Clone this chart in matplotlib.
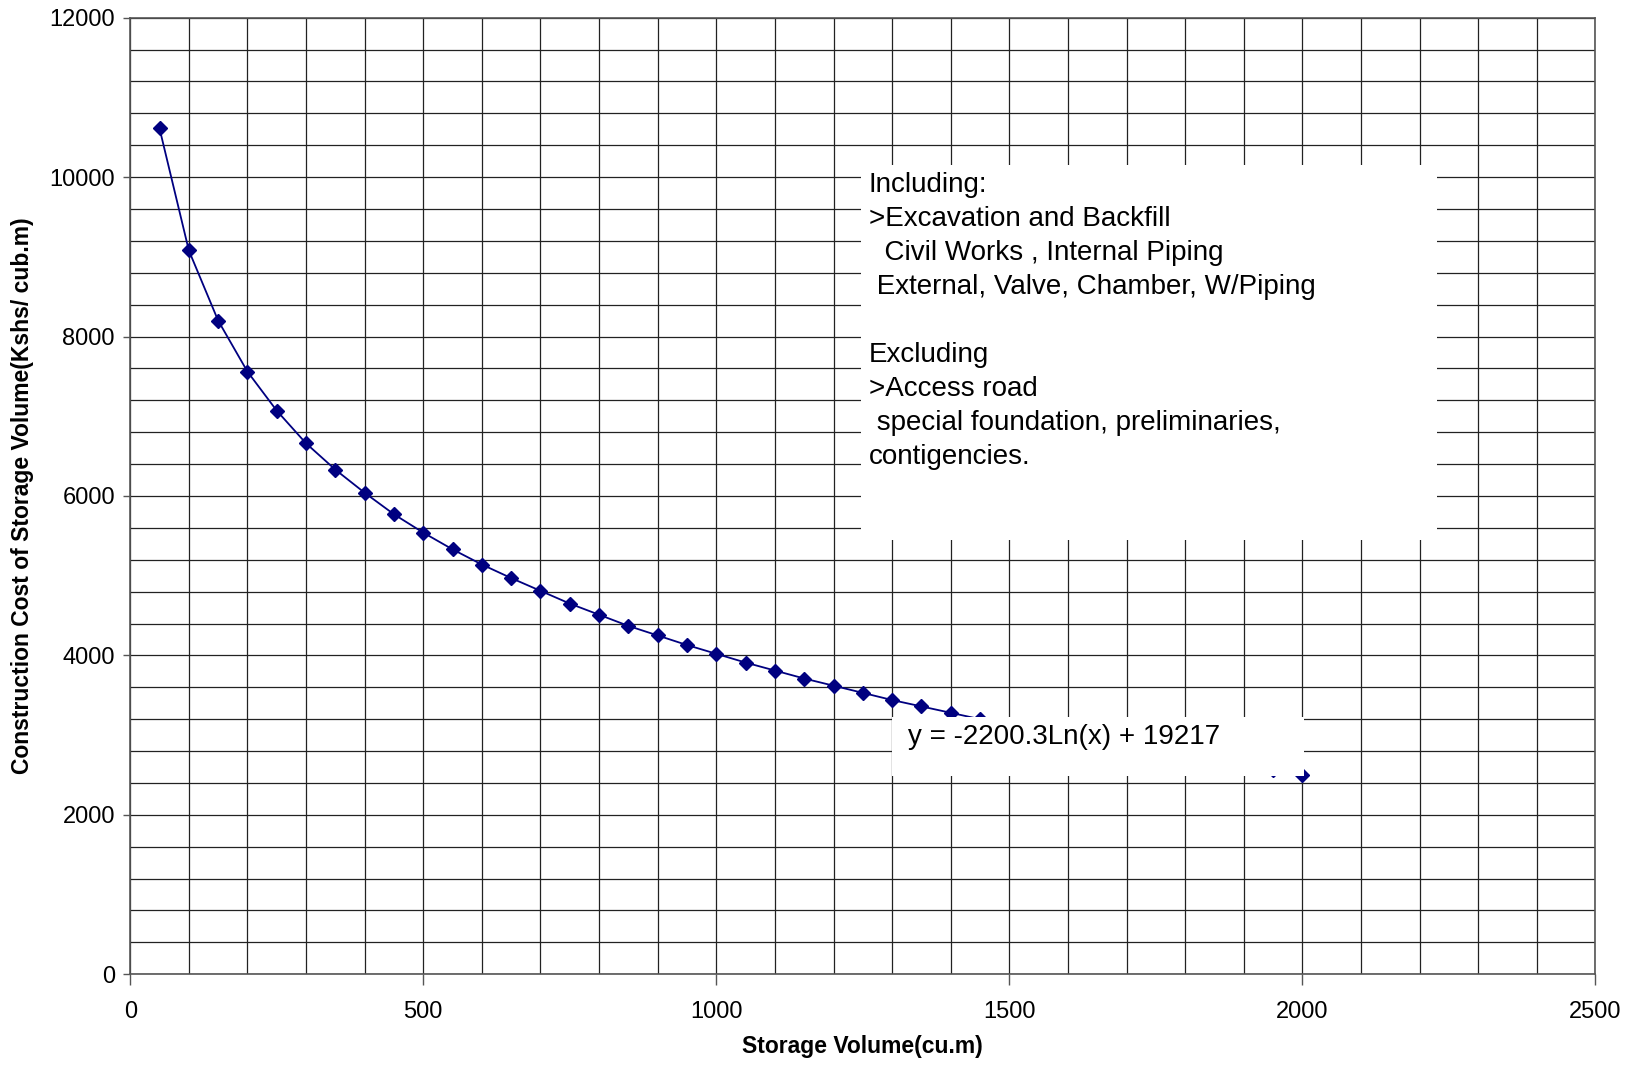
import matplotlib
matplotlib.use("Agg")
import matplotlib.pyplot as plt
from matplotlib.patches import Rectangle
import numpy as np

plt.rcParams['font.family'] = ['Liberation Sans', 'DejaVu Sans']

# Data
volume = [50, 100, 150, 200, 250, 300, 350, 400, 450, 500,
          550, 600, 650, 700, 750, 800, 850, 900, 950, 1000,
          1050, 1100, 1150, 1200, 1250, 1300, 1350, 1400, 1450, 1500,
          1550, 1600, 1650, 1700, 1750, 1800, 1850, 1900, 1950, 2000]
cost = [10610, 9080, 8200, 7560, 7070, 6660, 6330, 6040, 5770, 5540,
        5330, 5140, 4970, 4810, 4650, 4510, 4370, 4250, 4130, 4020,
        3910, 3810, 3710, 3620, 3530, 3440, 3360, 3280, 3200, 3130,
        3060, 2990, 2920, 2860, 2790, 2730, 2670, 2620, 2560, 2500]

x_ticks = [0, 500, 1000, 1500, 2000, 2500]
y_ticks = [0, 2000, 4000, 6000, 8000, 10000, 12000]

note_text = ("Including:\n"
             ">Excavation and Backfill\n"
             "  Civil Works , Internal Piping\n"
             " External, Valve, Chamber, W/Piping\n"
             "\n"
             "Excluding\n"
             ">Access road\n"
             " special foundation, preliminaries,\n"
             "contigencies.")
equation_text = "y = -2200.3Ln(x) + 19217"

fig = plt.figure(figsize=(16.34, 10.65), dpi=100)
ax = fig.add_axes([0.0797, 0.0852, 0.9764 - 0.0797, 0.9834 - 0.0852])

ax.set_xlim(0, 2500)
ax.set_ylim(0, 12000)

# grid
for gx in np.arange(0, 2501, 100):
    ax.axvline(gx, color='#222222', lw=0.9, zorder=1)
for gy in np.arange(0, 12001, 400):
    ax.axhline(gy, color='#222222', lw=0.9, zorder=1)

ax.plot(volume, cost, color='#000080', lw=1.3, marker='D', markersize=7.5,
        markerfacecolor='#000080', markeredgecolor='#000080', zorder=3)

ax.set_xticks(x_ticks)
ax.set_yticks(y_ticks)
ax.set_xticklabels([str(v) for v in x_ticks], fontsize=17)
ax.set_yticklabels([str(v) for v in y_ticks], fontsize=17)
ax.tick_params(axis='x', direction='out', length=8, width=1, color='#555555', pad=11)
ax.tick_params(axis='y', direction='out', length=5, width=1, color='#555555', pad=6)

for s in ax.spines.values():
    s.set_color('#555555')
    s.set_linewidth(1.2)

ax.set_xlabel("Storage Volume(cu.m)", fontsize=16.5, fontweight='bold')
ax.set_ylabel("Construction Cost of Storage Volume(Kshs/ cub.m)", fontsize=16.5,
              fontweight='bold')
ax.xaxis.set_label_coords(0.5, -0.0753)
ax.xaxis.label.set_verticalalignment('center')
ax.yaxis.set_label_coords(-0.0732, 0.5)
ax.yaxis.label.set_verticalalignment('center')

# Note box
ax.add_patch(Rectangle((1247, 5451), 2230 - 1247, 10157 - 5451,
                       facecolor='white', edgecolor='none', zorder=4))
ax.text(1260, 10060, note_text, fontsize=20, va='top', ha='left',
        linespacing=1.40, zorder=5)

# Equation box
ax.add_patch(Rectangle((1299, 2484), 2002 - 1299, 3229 - 2484,
                       facecolor='white', edgecolor='none', zorder=4))
ax.text(1327, 2980, equation_text, fontsize=20, va='center', ha='left', zorder=5)

fig.savefig("out.png", dpi=100)
